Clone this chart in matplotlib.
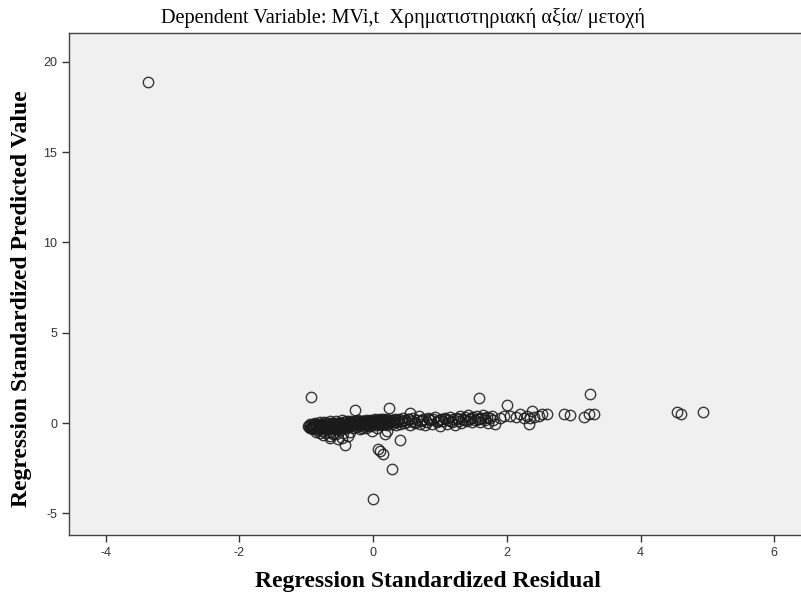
import matplotlib
matplotlib.use("Agg")
import matplotlib.pyplot as plt

plt.rcParams["axes.unicode_minus"] = False

# Regression standardized residual (x) vs standardized predicted value (y)
std_resid = [
    # left dense block
    -0.97, -0.95, -0.95, -0.93, -0.92, -0.90, -0.90, -0.88, -0.87, -0.86,
    -0.85, -0.84, -0.83, -0.82, -0.80, -0.80, -0.79, -0.78, -0.77, -0.76,
    -0.75, -0.74, -0.73, -0.72, -0.71, -0.70, -0.69, -0.68, -0.67, -0.66,
    -0.65, -0.64, -0.63, -0.62, -0.61, -0.60, -0.59, -0.58, -0.57, -0.56,
    -0.55, -0.54, -0.53, -0.52, -0.51, -0.50, -0.49, -0.48, -0.47, -0.46,
    -0.45, -0.44, -0.43, -0.42, -0.41, -0.40, -0.39, -0.38, -0.37, -0.36,
    -0.35, -0.34, -0.33, -0.32, -0.31, -0.30,
    -0.96, -0.94, -0.91, -0.89, -0.86, -0.83, -0.81, -0.78, -0.76, -0.73,
    -0.70, -0.68, -0.65, -0.62, -0.60, -0.57, -0.54, -0.51, -0.48, -0.45,
    -0.42, -0.39, -0.36, -0.33, -0.30, -0.27, -0.24, -0.21, -0.18, -0.15,
    -0.12, -0.09, -0.06, -0.03, 0.00, 0.03, 0.06, 0.09, 0.12, 0.15,
    0.18, 0.21, 0.25, 0.29, 0.33, 0.37,
    -0.80, -0.75, -0.70, -0.64, -0.59, -0.52, -0.47, -0.42, -0.37, -0.55,
    -0.45, -0.85, -0.65, -0.35,
    # centre block
    -0.29, -0.28, -0.27, -0.26, -0.25, -0.24, -0.23, -0.22, -0.21, -0.20,
    -0.19, -0.18, -0.17, -0.16, -0.15, -0.14, -0.13, -0.12, -0.11, -0.10,
    -0.09, -0.08, -0.07, -0.06, -0.05, -0.04, -0.03, -0.02, -0.01, 0.00,
    0.01, 0.02, 0.03, 0.04, 0.05, 0.06, 0.07, 0.08, 0.09, 0.10,
    0.11, 0.12, 0.13, 0.14, 0.15, 0.16, 0.17, 0.18, 0.19, 0.20,
    0.21, 0.22, 0.24, 0.26, 0.28, 0.30, 0.32, 0.34,
    -0.27, 0.23, -0.02, 0.18, 0.20, 0.40, 0.07, 0.10, 0.15, 0.28,
    0.00, -0.93, -0.20, 0.05, -0.10,
    # middle band
    0.36, 0.38, 0.40, 0.42, 0.44, 0.46, 0.48, 0.50, 0.52, 0.55,
    0.55, 0.58, 0.60, 0.62, 0.65, 0.68, 0.70, 0.72, 0.75, 0.78,
    0.80, 0.82, 0.85, 0.88, 0.90, 0.92, 0.95, 0.98, 1.00, 1.02,
    1.05, 1.08, 1.10, 1.12, 1.15, 1.18, 1.20, 1.22, 1.25, 1.28,
    1.30, 1.32, 1.35, 1.38, 1.40, 1.42, 1.45, 1.48, 1.50, 1.52,
    1.55, 1.58, 1.59, 1.60, 1.62, 1.65, 1.68, 1.70, 1.72, 1.75,
    1.78, 1.80,
    0.45, 0.53, 0.63, 0.73, 0.83, 0.97, 1.07, 1.17, 1.27, 1.37,
    1.47, 1.57, 1.67,
    # right band
    1.83, 1.90, 1.95, 2.00, 2.05, 2.13, 2.20, 2.25, 2.30, 2.38,
    2.35, 2.33, 2.40, 2.48, 2.53, 2.60, 2.85, 2.95, 3.15, 3.23,
    3.30, 3.24,
    # far right and outlier
    4.54, 4.61, 4.93, -3.37,
]

std_pred = [
    -0.15, -0.25, -0.05, -0.30, -0.18, -0.10, -0.35, -0.22, 0.00, -0.30,
    -0.15, -0.40, -0.08, -0.25, -0.18, 0.05, -0.32, -0.12, -0.45, -0.20,
    -0.05, -0.28, 0.08, -0.15, -0.38, -0.22, -0.02, -0.30, -0.12, -0.50,
    -0.20, 0.10, -0.08, -0.28, -0.15, -0.60, -0.02, -0.22, -0.35, -0.10,
    0.12, -0.18, -0.28, -0.05, -0.15, -0.40, 0.02, -0.22, -0.10, 0.15,
    -0.30, -0.05, -0.18, 0.05, -0.25, -0.12, 0.10, -0.02, -0.20, 0.00,
    -0.10, 0.12, -0.15, -0.05, 0.05, -0.28,
    -0.20, -0.10, -0.25, -0.05, -0.20, -0.12, -0.30, -0.05, -0.22, -0.10,
    -0.30, -0.15, 0.02, -0.25, -0.08, -0.18, -0.02, -0.22, -0.12, 0.05,
    -0.15, -0.05, 0.08, -0.12, 0.02, -0.08, 0.10, -0.02, 0.05, 0.12,
    0.00, 0.08, -0.05, 0.12, 0.02, 0.15, 0.05, 0.12, 0.18, 0.02,
    0.15, 0.05, 0.12, 0.18, 0.05, 0.15,
    -0.55, -0.65, -0.55, -0.72, -0.54, -0.91, -0.81, -1.24, -0.72, -0.60,
    -0.55, -0.50, -0.85, -0.50,
    0.00, -0.12, 0.10, -0.05, -0.20, 0.05, -0.10, 0.15, -0.02, -0.15,
    0.08, -0.05, -0.25, 0.12, 0.00, -0.12, 0.05, -0.08, 0.18, -0.02,
    -0.18, 0.10, 0.00, -0.10, 0.15, 0.02, -0.15, 0.08, -0.05, 0.12,
    -0.02, 0.20, 0.05, -0.10, 0.10, 0.00, 0.18, -0.08, 0.08, 0.22,
    0.02, -0.12, 0.12, 0.00, 0.25, 0.08, -0.05, 0.15, 0.05, 0.20,
    -0.10, 0.10, 0.00, 0.15, -0.05, 0.08, 0.20, -0.10,
    0.72, 0.83, -0.44, -0.63, -0.44, -0.92, -1.46, -1.56, -1.74, -2.55,
    -4.20, 1.42, -0.35, -0.30, -0.30,
    0.05, 0.20, -0.08, 0.12, 0.30, -0.02, 0.15, 0.05, 0.25, 0.57,
    -0.10, 0.10, 0.30, 0.00, 0.18, 0.40, -0.05, 0.12, 0.25, -0.12,
    0.08, 0.30, 0.15, -0.05, 0.20, 0.35, 0.05, 0.18, -0.15, 0.25,
    0.10, 0.30, -0.05, 0.15, 0.35, 0.05, 0.20, -0.10, 0.28, 0.12,
    0.40, 0.00, 0.20, 0.32, 0.10, 0.45, 0.22, 0.05, 0.35, 0.15,
    0.40, 0.25, 1.37, 0.08, 0.30, 0.45, 0.18, 0.35, 0.02, 0.28,
    0.40, 0.15,
    0.10, 0.22, 0.05, 0.15, 0.25, 0.10, 0.20, 0.12, 0.22, 0.15,
    0.28, 0.20, 0.30,
    -0.07, 0.30, 0.40, 1.00, 0.39, 0.33, 0.48, 0.30, 0.39, 0.67,
    0.30, -0.07, 0.33, 0.39, 0.48, 0.48, 0.48, 0.44, 0.33, 0.48,
    0.52, 1.59,
    0.59, 0.48, 0.63, 18.90,
]

x_ticks = [-4, -2, 0, 2, 4, 6]
y_ticks = [-5, 0, 5, 10, 15, 20]

title_text = "Dependent Variable: MVi,t  Χρηματιστηριακή αξία/ μετοχή"
x_label = "Regression Standardized Residual"
y_label = "Regression Standardized Predicted Value"

fig = plt.figure(figsize=(8.01, 6.0), dpi=100)
ax = fig.add_axes([69 / 801, 1 - 535 / 600, 1 - 69 / 801, (535 - 33) / 600])
ax.set_facecolor("#f0f0f0")

ax.plot(std_resid, std_pred, linestyle="none", marker="o", markersize=7.5,
        markerfacecolor="none", markeredgecolor="#1a1a1a",
        markeredgewidth=1.0, alpha=0.85)

ax.set_xlim(-4.55, 6.4)
ax.set_ylim(-6.2, 21.6)
ax.set_xticks(x_ticks)
ax.set_yticks(y_ticks)
ax.tick_params(direction="out", length=5, width=1, colors="#333333",
               labelsize=9)
for lbl in ax.get_xticklabels() + ax.get_yticklabels():
    lbl.set_fontfamily("Liberation Sans")

for side in ["left", "bottom", "top"]:
    ax.spines[side].set_color("#444444")
    ax.spines[side].set_linewidth(1.0)
ax.spines["right"].set_visible(False)

fig.text(403 / 801, 1 - 18 / 600, title_text, ha="center", va="center",
         fontsize=14.6, family="Liberation Serif")
ax.set_xlabel(x_label, fontsize=17, fontweight="bold",
              family="Liberation Serif")
ax.xaxis.set_label_coords(0.49, -0.072)
ax.set_ylabel(y_label, fontsize=17, fontweight="bold",
              family="Liberation Serif")
ax.yaxis.set_label_coords(-0.051, 0.47)

fig.savefig("out.png", dpi=100, facecolor="white")
